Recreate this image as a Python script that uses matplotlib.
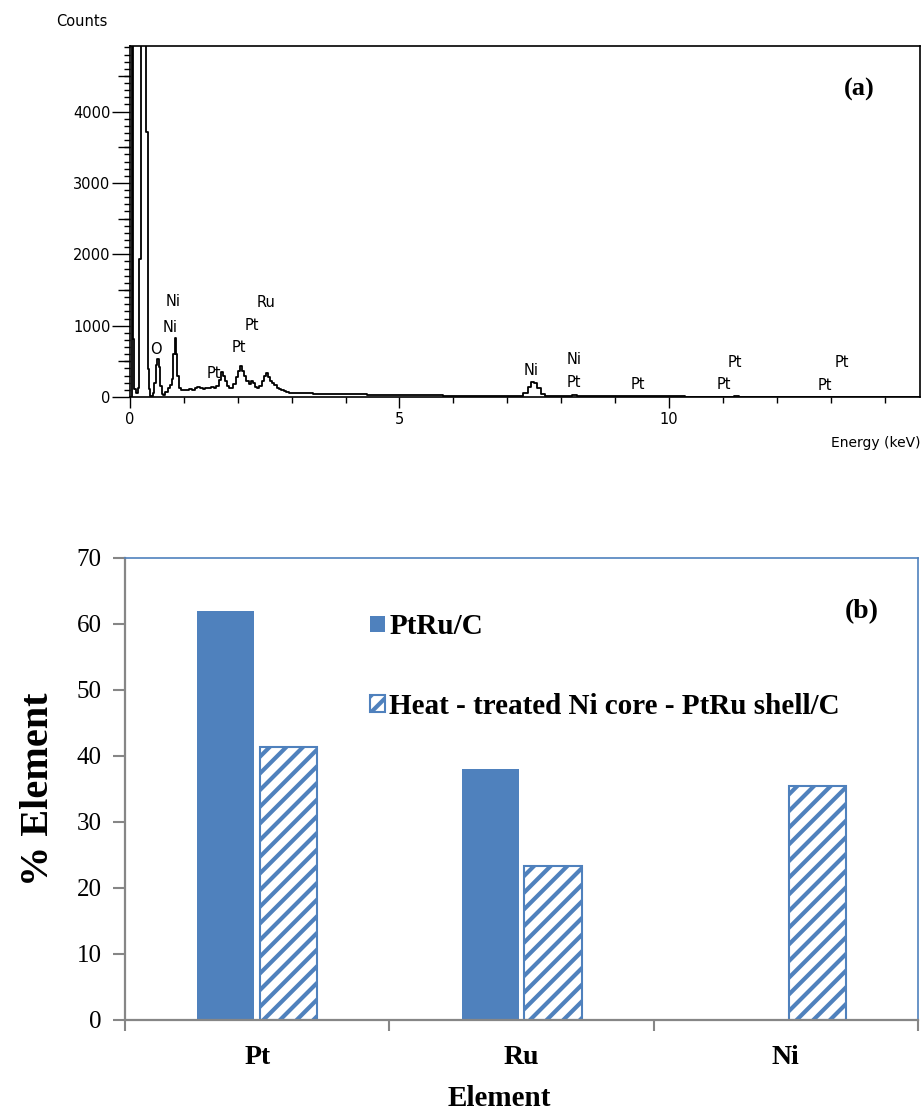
import numpy as np
import matplotlib
matplotlib.use("Agg")
from matplotlib import pyplot as plt
from matplotlib.ticker import MultipleLocator, FixedLocator

# EDX spectrum (energy in keV, counts), read as step bins
energy = [0.00, 0.03, 0.05, 0.08, 0.11, 0.14, 0.17, 0.20, 0.29, 0.33, 0.35, 0.38,
          0.42, 0.45, 0.48, 0.50, 0.54, 0.56, 0.59, 0.62, 0.65, 0.70, 0.74, 0.77,
          0.80, 0.83, 0.85, 0.88, 0.91, 0.95, 1.00, 1.05, 1.10, 1.15, 1.20, 1.25,
          1.30, 1.35, 1.40, 1.45, 1.50, 1.55, 1.60, 1.65, 1.68, 1.72, 1.76, 1.80,
          1.84, 1.88, 1.92, 1.96, 2.00, 2.04, 2.08, 2.12, 2.16, 2.20, 2.24, 2.28,
          2.32, 2.36, 2.40, 2.44, 2.48, 2.52, 2.56, 2.60, 2.64, 2.68, 2.72, 2.76,
          2.80, 2.85, 2.90, 2.95, 3.00, 3.20, 3.40, 3.60, 3.80, 4.00, 4.20, 4.40,
          4.60, 4.80, 5.00, 5.20, 5.40, 5.80, 6.20, 6.60, 7.00, 7.30, 7.38, 7.44,
          7.50, 7.56, 7.62, 7.70, 8.00, 8.20, 8.30, 8.60, 9.00, 9.40, 9.80, 10.00,
          10.30, 11.20, 11.30, 14.66]
counts = [0, 5200, 810, 110, 60, 130, 1930, 5200, 3710, 390, 110, 20,
          60, 200, 450, 530, 420, 160, 40, 30, 70, 120, 170, 250,
          600, 830, 600, 300, 130, 100, 105, 95, 110, 100, 120, 140,
          130, 115, 125, 120, 135, 130, 150, 240, 350, 300, 220, 160,
          120, 130, 180, 280, 360, 430, 370, 300, 230, 180, 220, 190,
          140, 120, 150, 230, 300, 330, 280, 230, 190, 170, 130, 110,
          95, 80, 70, 60, 55, 50, 48, 45, 40, 38, 36, 33,
          30, 28, 25, 30, 22, 20, 20, 18, 20, 60, 140, 210,
          200, 120, 40, 20, 15, 35, 20, 15, 15, 12, 12, 10,
          0, 15, 0, 0]

# peak labels: (text, energy, counts)
peak_labels = [("O", 0.38, 560), ("Ni", 0.60, 870), ("Ni", 0.67, 1230),
               ("Pt", 1.42, 230), ("Pt", 1.88, 590), ("Pt", 2.13, 900),
               ("Ru", 2.35, 1220), ("Ni", 7.30, 270), ("Ni", 8.10, 420),
               ("Pt", 8.10, 100), ("Pt", 9.28, 75), ("Pt", 10.88, 75),
               ("Pt", 11.08, 380), ("Pt", 12.76, 50), ("Pt", 13.08, 380)]

# element composition (%)
elements = ["Pt", "Ru", "Ni"]
ptru_c = [62.0, 38.0, 0.0]
ni_core = [41.3, 23.3, 35.4]

blue = "#4F81BD"
grey = "#868686"
serif = "Liberation Serif"

fig = plt.figure(figsize=(9.22, 11.13), dpi=100)

# ---- (a) spectrum ----
pos_a = [0.141, 0.6433, 0.857, 0.3154]
ymax_a = 4920
ax1 = fig.add_axes(pos_a)
ax1.plot(energy, counts, drawstyle="steps-post", color="black", lw=1.3)
ax1.set_xlim(0, 14.66)
ax1.set_ylim(0, ymax_a)
ax1.xaxis.set_major_locator(MultipleLocator(5))
ax1.xaxis.set_minor_locator(MultipleLocator(1))
ax1.yaxis.set_major_locator(MultipleLocator(1000))
ax1.yaxis.set_minor_locator(MultipleLocator(100))
ax1.tick_params(axis="y", which="major", direction="out", length=13, width=1,
                labelsize=10.5, pad=1)
ax1.tick_params(axis="x", which="major", direction="out", length=8, width=1,
                labelsize=10.5, pad=3)
ax1.tick_params(axis="both", which="minor", direction="out", length=4.5, width=1)
for sp in ax1.spines.values():
    sp.set_linewidth(1.2)

# medium ticks every 500 counts on a separate overlay axis
ax1m = fig.add_axes(pos_a)
ax1m.set_ylim(0, ymax_a)
ax1m.set_frame_on(False)
ax1m.patch.set_visible(False)
ax1m.xaxis.set_visible(False)
ax1m.yaxis.set_major_locator(FixedLocator([500, 1500, 2500, 3500, 4500]))
ax1m.yaxis.set_minor_locator(FixedLocator([]))
ax1m.tick_params(axis="y", direction="out", length=9, width=1, labelleft=False)

for txt, e, c in peak_labels:
    ax1.text(e, c, txt, fontsize=10.5, ha="left", va="bottom")
ax1.text(0.943, 0.875, "(a)", transform=ax1.transAxes, ha="right", va="center",
         fontsize=19, fontweight="bold", family=serif)
fig.text(56 / 922, 1 - 22 / 1113, "Counts", fontsize=10.5, ha="left", va="center")
fig.text(920 / 922, 1 - 443 / 1113, "Energy (keV)", fontsize=10, ha="right", va="center")

# ---- (b) composition bars ----
ax2 = fig.add_axes([0.1356, 0.0836, 0.8601, 0.4151])
x = np.arange(len(elements))
w = 0.216
ax2.bar(x - 0.119, ptru_c, w, color=blue, edgecolor=blue, lw=0, label="PtRu/C")
plt.rcParams["hatch.linewidth"] = 3.0
ax2.bar(x + 0.119, ni_core, w, color="white", edgecolor=blue, lw=1.5, hatch="//",
        label="Heat - treated Ni core - PtRu shell/C")
ax2.set_xlim(-0.5, 2.5)
ax2.set_ylim(0, 70)
ax2.yaxis.set_major_locator(MultipleLocator(10))
ax2.set_xticks([-0.5, 0.5, 1.5, 2.5])
ax2.set_xticklabels([])
ax2.set_xticks(x, minor=True)
ax2.set_xticklabels(elements, minor=True, fontsize=20, fontweight="bold", family=serif)
ax2.tick_params(axis="x", which="minor", length=0, pad=18)
ax2.tick_params(axis="x", which="major", direction="out", length=8, color=grey, width=1.5)
ax2.tick_params(axis="y", direction="out", length=9, color=grey, width=1.5,
                labelsize=18, pad=8)
for lab in ax2.get_yticklabels():
    lab.set_family(serif)
for side in ["left", "bottom"]:
    ax2.spines[side].set_color(grey)
    ax2.spines[side].set_linewidth(1.6)
for side in ["top", "right"]:
    ax2.spines[side].set_color(blue)
    ax2.spines[side].set_linewidth(1.2)
ax2.set_ylabel("% Element", fontsize=29, fontweight="bold", family=serif, labelpad=14)
ax2.set_xlabel("Element", fontsize=21, fontweight="bold", family=serif)
ax2.xaxis.set_label_coords(0.472, -0.141)
ax2.legend(loc="upper left", bbox_to_anchor=(0.276, 0.937), frameon=False,
           labelspacing=1.8, handlelength=0.5, handleheight=0.5, handletextpad=0.15,
           prop={"family": serif, "weight": "bold", "size": 21})
ax2.text(0.95, 0.883, "(b)", transform=ax2.transAxes, ha="right", va="center",
         fontsize=20, fontweight="bold", family=serif)

fig.savefig("out.png", dpi=100)
